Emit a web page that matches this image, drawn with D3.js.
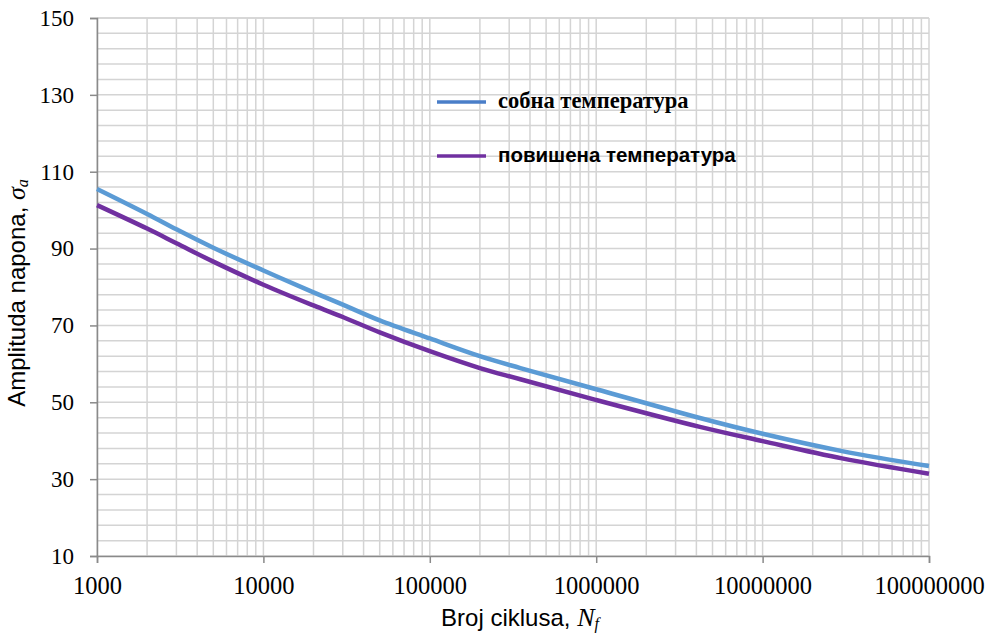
<!DOCTYPE html>
<html><head><meta charset="utf-8">
<script src="https://cdn.jsdelivr.net/npm/d3@7/dist/d3.min.js"></script>
<style>body{margin:0;background:#fff}svg{display:block}
.serif{font-family:"Liberation Serif","Times New Roman","DejaVu Serif",serif}
.sans{font-family:"Liberation Sans",Arial,"DejaVu Sans",sans-serif}
</style>
</head><body>
<svg id="c" width="989" height="635"></svg>
<script>
const cycles = [1e3, 2e3, 3e3, 5e3, 1e4, 2e4, 3e4, 5e4, 1e5, 2e5, 3.5e5, 1e6, 4.2e6, 1e7, 3e7, 1e8];
const roomTemp = [105.5, 99.0, 95.0, 90.2, 84.3, 78.6, 75.4, 71.3, 66.6, 62.0, 58.9, 53.4, 45.9, 41.8, 37.3, 33.4];
const highTemp = [101.3, 95.2, 91.4, 86.6, 80.6, 75.2, 72.2, 68.2, 63.3, 58.9, 56.0, 50.6, 43.6, 39.9, 35.4, 31.4];
const seriesNames = ["собна температура", "повишена температура"];
const xTicks = [1e3, 1e4, 1e5, 1e6, 1e7, 1e8];
const yTicks = [10, 30, 50, 70, 90, 110, 130, 150];

const svg = d3.select("#c");
const L = 97, R = 929, T = 18, B = 556;
const x = d3.scaleLog().domain([1e3, 1e8]).range([L, R]);
const y = d3.scaleLinear().domain([10, 150]).range([B, T]);

// grid
const g = svg.append("g");
const vgrid = [];
for (let d = 1e3; d < 1e8; d *= 10) for (let k = 1; k <= 9; k++) vgrid.push(d * k);
vgrid.push(1e8);
g.selectAll("line.v").data(vgrid).enter().append("line")
  .attr("x1", d => x(d)).attr("x2", d => x(d)).attr("y1", T).attr("y2", B)
  .attr("stroke", "#d4d4d4").attr("stroke-width", 1.5);
g.selectAll("line.h").data(d3.range(10, 151, 4).concat([150])).enter().append("line")
  .attr("x1", L).attr("x2", R).attr("y1", d => y(d)).attr("y2", d => y(d))
  .attr("stroke", "#d4d4d4").attr("stroke-width", 1.5);

// axes
const yAxis = svg.append("g").attr("transform", `translate(${L},0)`)
  .call(d3.axisLeft(y).tickValues(yTicks).tickSize(7).tickPadding(16).tickFormat(d3.format("d")));
const xAxis = svg.append("g").attr("transform", `translate(0,${B})`)
  .call(d3.axisBottom(x).tickValues(xTicks).tickSize(7).tickPadding(14).tickFormat(d3.format("d")));
[yAxis, xAxis].forEach(a => {
  a.attr("font-family", null).attr("font-size", null);
  a.select(".domain").attr("stroke", "#8a8a8a").attr("stroke-width", 1.5);
  a.selectAll(".tick line").attr("stroke", "#8a8a8a").attr("stroke-width", 1.5);
  a.selectAll("text").attr("class", "serif").attr("fill", "#000");
});
yAxis.selectAll(".tick text").style("font-size", "23px");
xAxis.selectAll(".tick text").style("font-size", "24.5px").attr("dy", "0.71em");

// lines
const line = vals => d3.line().curve(d3.curveCatmullRom.alpha(0.5))
  .x((d, i) => x(cycles[i])).y(d => y(d))(vals);
svg.append("path").attr("d", line(roomTemp)).attr("fill", "none")
  .attr("stroke", "#5b9bd5").attr("stroke-width", 4.5);
svg.append("path").attr("d", line(highTemp)).attr("fill", "none")
  .attr("stroke", "#7030a0").attr("stroke-width", 4.5);

// legend
const leg = svg.append("g");
leg.append("line").attr("x1", 437).attr("x2", 486).attr("y1", 102).attr("y2", 102)
  .attr("stroke", "#4a7ec8").attr("stroke-width", 3.5);
leg.append("text").attr("x", 498).attr("y", 108).text(seriesNames[0])
  .attr("class", "serif").style("font-weight", "bold").style("font-size", "22.5px").attr("fill", "#000");
leg.append("line").attr("x1", 437).attr("x2", 486).attr("y1", 156).attr("y2", 156)
  .attr("stroke", "#7030a0").attr("stroke-width", 3.5);
leg.append("text").attr("x", 498).attr("y", 162).text(seriesNames[1])
  .attr("class", "sans").style("font-weight", "bold").style("font-size", "20.5px").attr("fill", "#000");

// axis titles
const xt = svg.append("text").attr("x", 520).attr("y", 626).attr("text-anchor", "middle")
  .attr("class", "sans").style("font-size", "24px").attr("fill", "#000");
xt.append("tspan").text("Broj ciklusa, ");
xt.append("tspan").text("N").attr("class", "serif").style("font-style", "italic").style("font-size", "26px");
xt.append("tspan").text("f").attr("class", "serif").style("font-style", "italic").style("font-size", "16px").attr("dy", 3);

const yt = svg.append("text").attr("transform", "translate(25,293) rotate(-90)").attr("text-anchor", "middle")
  .attr("class", "sans").style("font-size", "24px").attr("fill", "#000");
yt.append("tspan").text("Amplituda napona, ");
yt.append("tspan").text("σ").attr("class", "serif").style("font-style", "italic").style("font-size", "26px");
yt.append("tspan").text("a").attr("class", "serif").style("font-style", "italic").style("font-size", "16px").attr("dy", 3);
</script>
</body></html>
